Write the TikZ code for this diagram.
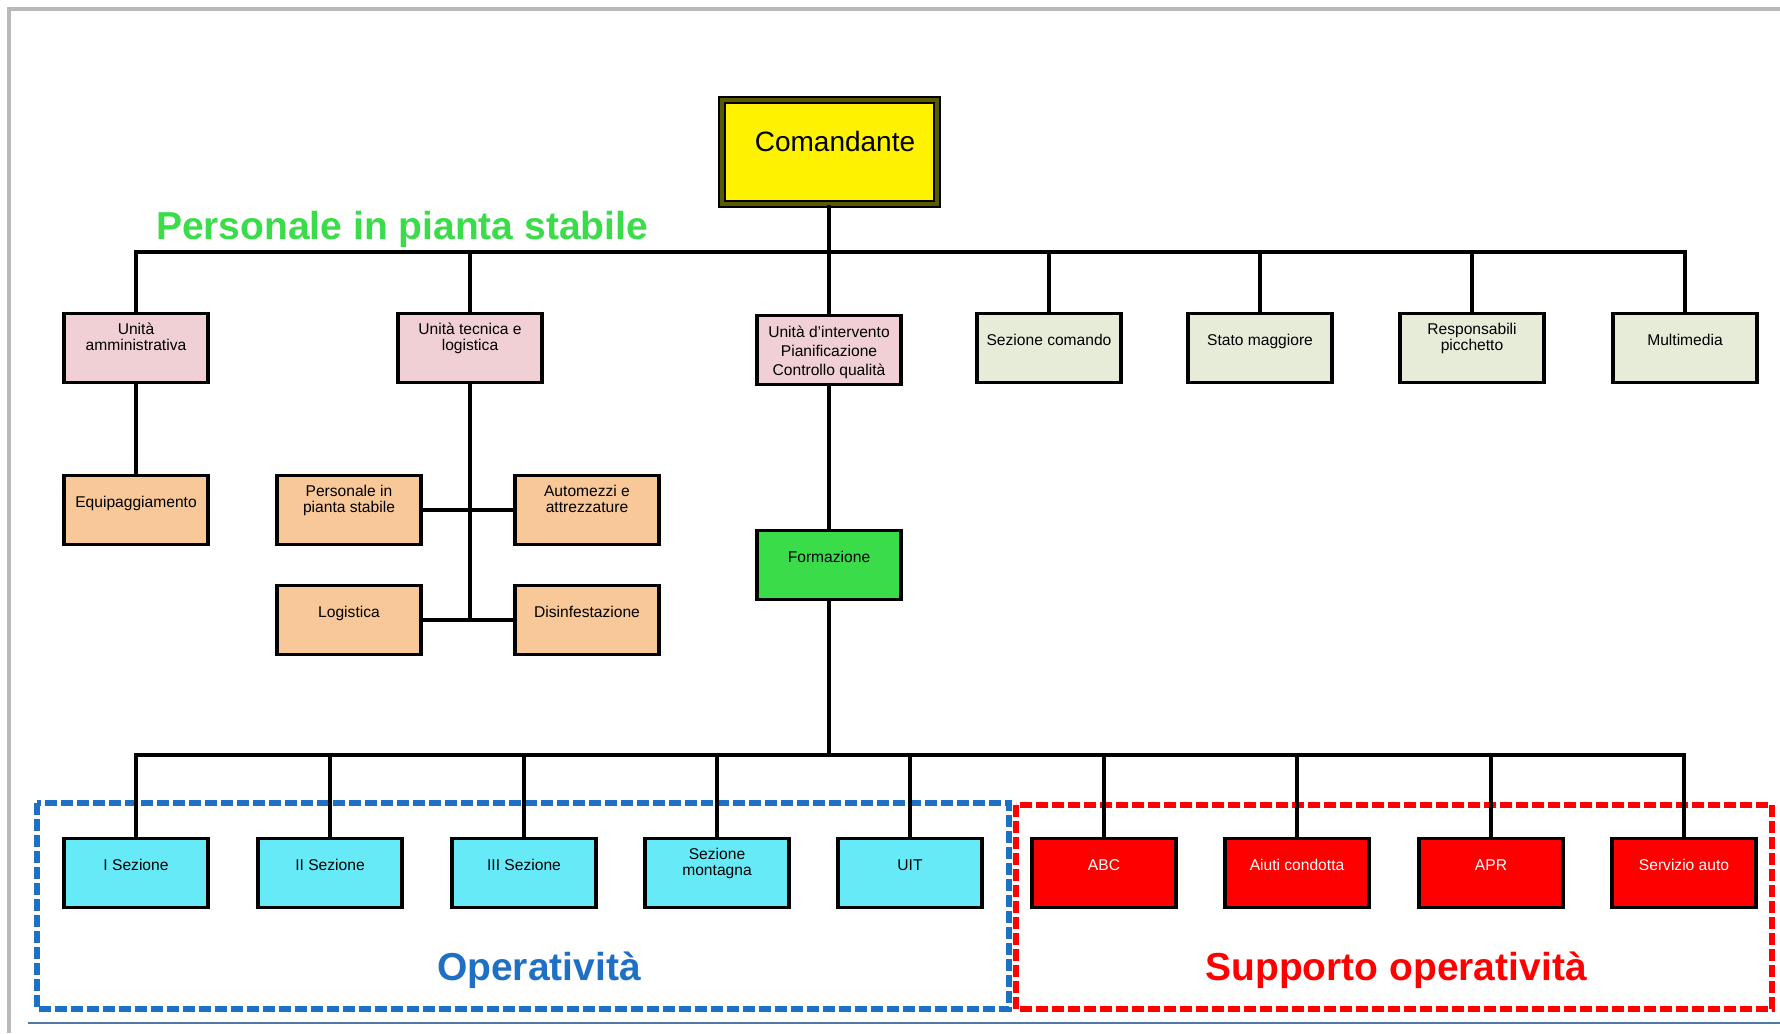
\documentclass[tikz,border=0pt]{standalone}
\usepackage{fontspec}
\setmainfont{Liberation Sans}
\definecolor{rosa}{HTML}{F0D0D4}
\definecolor{salvia}{HTML}{E6ECD8}
\definecolor{pesca}{HTML}{F8C898}
\definecolor{verde}{HTML}{3ADC4A}
\definecolor{ciano}{HTML}{66EAF8}
\definecolor{blu}{HTML}{1E70C4}
\definecolor{rosso}{HTML}{FF0000}
\definecolor{oliva}{HTML}{5A5A00}
\begin{document}
\begin{tikzpicture}[x=0.5pt, y=-0.5pt,
        unit/.style={rectangle, draw, line width=1.9pt, minimum width=72pt, minimum height=34.5pt,
            inner ysep=1pt, align=center, font=\fontsize{7.8}{8}\selectfont,
            text height=9.4pt, text depth=6.6pt},
        oneline/.style={text height=8.4pt, text depth=10.6pt},
        trio/.style={font=\fontsize{7.8}{9.6}\selectfont, text height=27.4pt, text depth=1.6pt},
        link/.style={line width=1.7pt},
        group/.style={line width=3pt, dash pattern=on 6pt off 2pt},
        title/.style={font=\fontsize{19.5}{22}\selectfont\bfseries}]
        \useasboundingbox (0,0) rectangle (1780,1033);
        \draw[gray!55, line width=1.6pt] (9,1033) -- (9,9) -- (1780,9);
        \draw[blu!50!gray, line width=1pt] (28,1023) -- (1780,1023);

        \draw[group, blu] (37,803) rectangle (1009,1009);
        \draw[group, rosso] (1016,805) rectangle (1772,1009);

        \node[draw=black, line width=1pt, double=oliva, double distance=2pt, fill=yellow,
            minimum width=107.5pt, minimum height=52pt, font=\fontsize{14}{16}\selectfont,
            text height=9pt, text depth=9.5pt] (cmd) at (829,152) {\hspace*{6pt}Comandante};
        \node[title, text=verde, anchor=west] (ttl) at (149,229) {Personale in pianta stabile};
        \coordinate (top) at (829,252);

        \node[unit, fill=rosa] (amm) at (136,348) {Unità\\amministrativa};
        \node[unit, fill=rosa] (tec) at (470,348) {Unità tecnica e\\logistica};
        \node[unit, trio, fill=rosa] (int) at (829,350) {Unità d'intervento\\Pianificazione\\Controllo qualità};
        \node[unit, oneline, fill=salvia] (sez) at (1049,348) {Sezione comando};
        \node[unit, oneline, fill=salvia] (stato) at (1260,348) {Stato maggiore};
        \node[unit, fill=salvia] (resp) at (1472,348) {Responsabili\\picchetto};
        \node[unit, oneline, fill=salvia] (multi) at (1685,348) {Multimedia};

        \node[unit, oneline, fill=pesca] (equip) at (136,510) {Equipaggiamento};
        \node[unit, fill=pesca] (pers) at (349,510) {Personale in\\pianta stabile};
        \node[unit, fill=pesca] (auto) at (587,510) {Automezzi e\\attrezzature};
        \node[unit, oneline, fill=pesca] (logi) at (349,620) {Logistica};
        \node[unit, oneline, fill=pesca] (disin) at (587,620) {Disinfestazione};
        \coordinate (mid) at (470,620);

        \node[unit, oneline, fill=verde] (form) at (829,565) {Formazione};
        \coordinate (low) at (829,755);

        \node[unit, oneline, fill=ciano] (s1) at (136,873) {I Sezione};
        \node[unit, oneline, fill=ciano] (s2) at (330,873) {II Sezione};
        \node[unit, oneline, fill=ciano] (s3) at (524,873) {III Sezione};
        \node[unit, fill=ciano] (s4) at (717,873) {Sezione\\montagna};
        \node[unit, oneline, fill=ciano] (uit) at (910,873) {UIT};
        \node[unit, oneline, fill=rosso, text=white] (abc) at (1104,873) {ABC};
        \node[unit, oneline, fill=rosso, text=white] (aiuti) at (1297,873) {Aiuti condotta};
        \node[unit, oneline, fill=rosso, text=white] (apr) at (1491,873) {APR};
        \node[unit, oneline, fill=rosso, text=white] (serv) at (1684,873) {Servizio auto};

        \node[title, text=blu] (oper) at (539,970) {Operatività};
        \node[title, text=rosso] (supp) at (1396,970) {Supporto operatività};

        \draw[link] (cmd) -- (top)
            (amm.north) |- (top)
            (tec.north) |- (top)
            (int.north) |- (top)
            (sez.north) |- (top)
            (stato.north) |- (top)
            (resp.north) |- (top)
            (multi.north) |- (top);
        \draw[link] (amm) -- (equip)
            (tec) -- (mid)
            (pers) -- (auto)
            (logi) -- (disin);
        \draw[link] (int) -- (form)
            (form) -- (low)
            (s1.north) |- (low)
            (s2.north) |- (low)
            (s3.north) |- (low)
            (s4.north) |- (low)
            (uit.north) |- (low)
            (abc.north) |- (low)
            (aiuti.north) |- (low)
            (apr.north) |- (low)
            (serv.north) |- (low);
    \end{tikzpicture}
\end{document}
